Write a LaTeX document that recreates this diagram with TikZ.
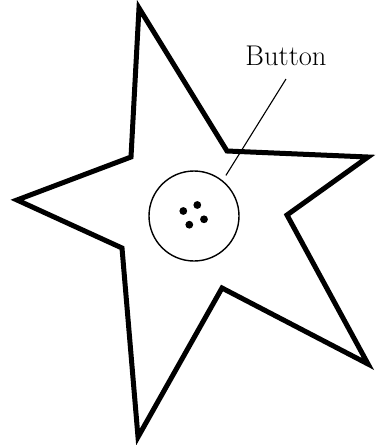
\documentclass[tikz,border=0pt]{standalone}
\begin{document}
\begin{tikzpicture}[
    x=1pt, y=-1pt,
    outline/.style={line width=5pt, line join=miter},
    button/.style={circle, draw, line width=1.4pt, minimum size=90pt, inner sep=0pt},
    hole/.style={fill=black},
    leader/.style={line width=1.1pt},
    label/.style={font=\fontsize{28.5}{32}\selectfont, inner sep=0pt, anchor=south}
]
\useasboundingbox (0,0) rectangle (381,445);

% Star
\draw[outline] (139,8) -- (227,151) -- (368,157) -- (287,215) -- (368,364)
    -- (222,288) -- (138,437) -- (122,248) -- (17,200) -- (131,157) -- cycle;

% Button
\node[button] (btn) at (194,216) {};
\foreach \x/\y in {183.3/211, 197.3/205, 204/219.3, 189.3/224.7}
    \fill[hole] (\x,\y) circle (3.9pt);

% Label
\node[label] (lbl) at (286,66) {Button};
\coordinate (tip) at (286,79);
\draw[leader, shorten >=6pt] (tip) -- (btn.51);
\end{tikzpicture}
\end{document}
